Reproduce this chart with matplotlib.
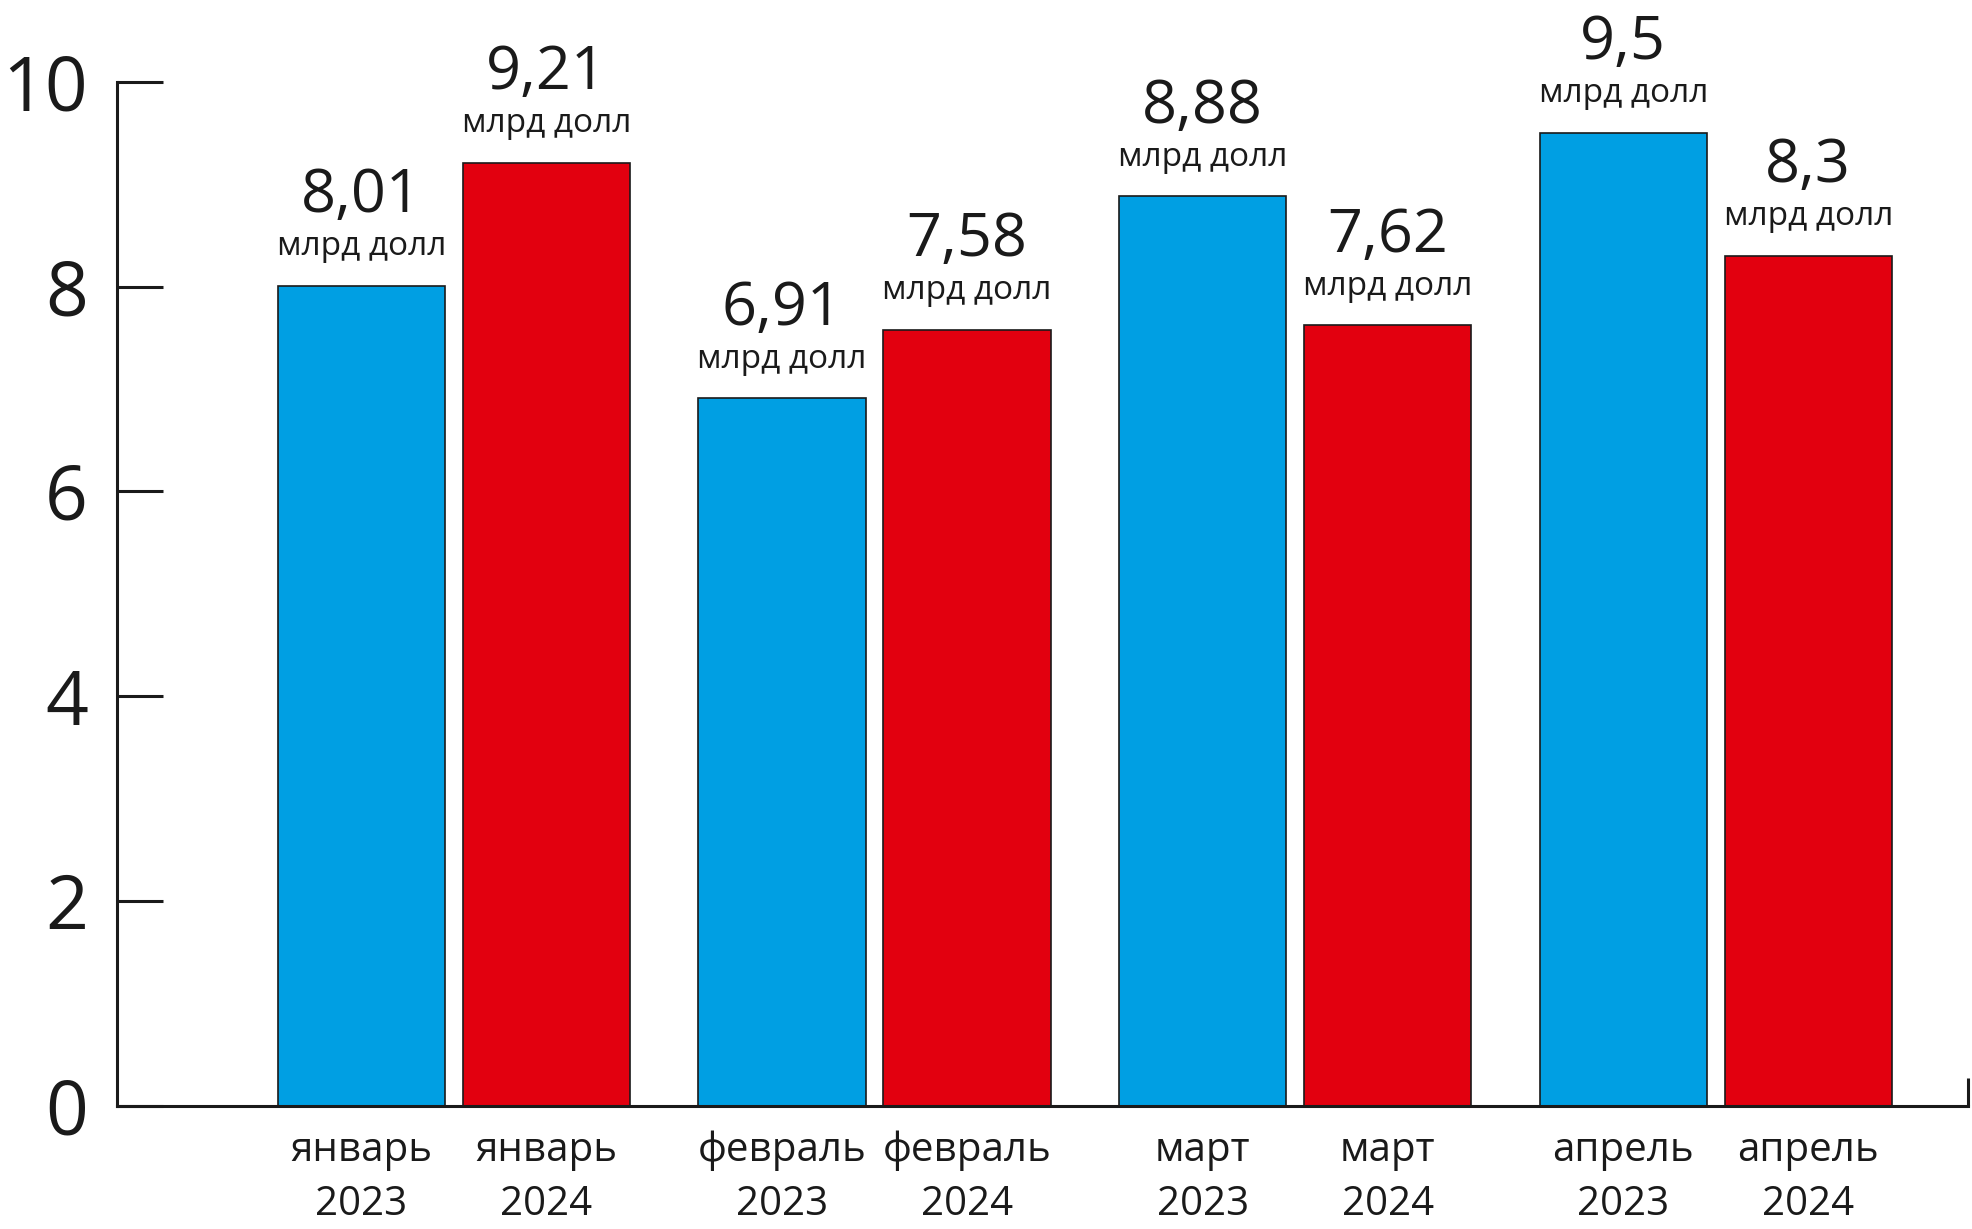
import matplotlib.pyplot as plt
import numpy as np

plt.rcParams['font.family'] = ['Open Sans', 'DejaVu Sans']

months = ['январь', 'февраль', 'март', 'апрель']
years = ['2023', '2024']
values_2023 = [8.01, 6.91, 8.88, 9.5]
values_2024 = [9.21, 7.58, 7.62, 8.3]
label_2023 = ['8,01', '6,91', '8,88', '9,5']
label_2024 = ['9,21', '7,58', '7,62', '8,3']
unit = 'млрд долл'
y_ticks = [0, 2, 4, 6, 8, 10]

BLUE = '#009FE3'
RED = '#E2000F'
INK = '#1a1a1a'

fig = plt.figure(figsize=(19.72, 12.29), dpi=100)
ax = fig.add_axes([0.0593, 0.1003, 0.9387, 0.8332])

step = 2.514
off = 0.553
g = np.arange(len(months)) * step
x23 = g - off
x24 = g + off

ax.bar(x23, values_2023, width=1.0, color=BLUE, edgecolor=INK, linewidth=1.2, zorder=2)
ax.bar(x24, values_2024, width=1.0, color=RED, edgecolor=INK, linewidth=1.2, zorder=2)

for xs, vals, labs in [(x23, values_2023, label_2023), (x24, values_2024, label_2024)]:
    for x, v, s in zip(xs, vals, labs):
        ax.annotate(unit, (x, v), xytext=(0, 22), textcoords='offset points',
                    ha='center', va='baseline', fontsize=24, color=INK)
        ax.annotate(s, (x, v), xytext=(0, 53), textcoords='offset points',
                    ha='center', va='baseline', fontsize=44, color=INK)

ax.set_xlim(-2.015, 9.05)
ax.set_ylim(0, 10)

xt = np.ravel(np.column_stack([x23, x24]))
xl = [f'{m}\n{y}' for m in months for y in years]
ax.set_xticks(xt, xl)
ax.tick_params(axis='x', length=0, pad=18, labelsize=29, labelcolor=INK)
for t in ax.get_xticklabels():
    t.set_linespacing(1.45)

ax.set_yticks(y_ticks, [str(v) for v in y_ticks])
ax.tick_params(axis='y', direction='in', length=33, width=2.2, color=INK,
               pad=21, labelsize=54, labelcolor=INK)

for side in ['top', 'right']:
    ax.spines[side].set_visible(False)
for side in ['left', 'bottom']:
    ax.spines[side].set_linewidth(2.2)
    ax.spines[side].set_color(INK)

# small end tick at the right of the baseline
ax.plot([9.05, 9.05], [0, 0.27], color=INK, linewidth=2.2, clip_on=False,
        solid_capstyle='butt')

fig.savefig('out.png', dpi=100)
